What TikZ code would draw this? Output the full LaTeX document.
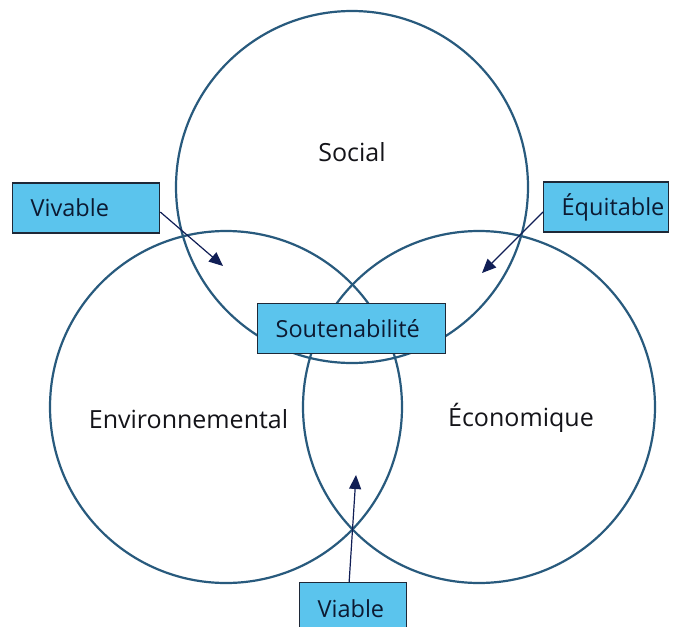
\documentclass[tikz,border=0pt]{standalone}
\usepackage{fontspec}
\setmainfont{Open Sans}
\usetikzlibrary{arrows.meta}
\definecolor{ringc}{RGB}{40,90,125}
\definecolor{boxfill}{RGB}{91,196,237}
\definecolor{boxline}{RGB}{30,40,55}
\definecolor{arrowc}{RGB}{16,30,85}
\definecolor{txt}{RGB}{20,20,25}
\definecolor{boxtxt}{RGB}{12,26,50}
\tikzset{
  ring/.style={circle, draw=ringc, line width=2.2pt, minimum size=352pt, inner sep=0pt, outer sep=0pt},
  lbl/.style={text=txt, font=\fontsize{25}{30}\selectfont, inner sep=0pt},
  tagbox/.style={draw=boxline, fill=boxfill, line width=1.3pt, text=boxtxt,
    font=\fontsize{23.5}{28}\selectfont, align=left, inner xsep=18pt, inner ysep=0pt,
    minimum height=50pt, anchor=west},
  pointer/.style={draw=arrowc, line width=1.2pt, -{Triangle[length=14pt,width=12pt]}}
}
\begin{document}
\begin{tikzpicture}[x=1pt,y=-1pt]
\useasboundingbox (0,0) rectangle (678,627);
\fill[white] (0,0) rectangle (678,627);
% circles
\node[ring] (soc) at (352,187) {};
\node[ring] (env) at (226,407) {};
\node[ring] (eco) at (479,407) {};
% circle labels
\node[lbl] (tsoc) at (352,152) {Social};
\node[lbl] (tenv) at (188.5,419) {Environnemental};
\node[lbl] (teco) at (521,418) {Économique};
% arrow end points
\coordinate (pviv) at (223,266);
\coordinate (pequ) at (482,273);
\coordinate (pvia) at (356,475);
% boxes
\node[tagbox, text width=111pt] (viv) at (12,208) {Vivable};
\node[tagbox, text width=89pt] (equ) at (543,207) {Équitable};
\node[tagbox, text width=152pt] (sou) at (257,328.5) {Soutenabilité};
\node[tagbox, text width=71pt, minimum height=52pt, anchor=north west] (via) at (299,582) {Viable};
% arrows
\draw[pointer] ([yshift=-4pt]viv.east) -- (pviv);
\draw[pointer] ([yshift=-5pt]equ.west) -- (pequ);
\draw[pointer] ([xshift=-4pt]via.north) -- (pvia);
\end{tikzpicture}
\end{document}
